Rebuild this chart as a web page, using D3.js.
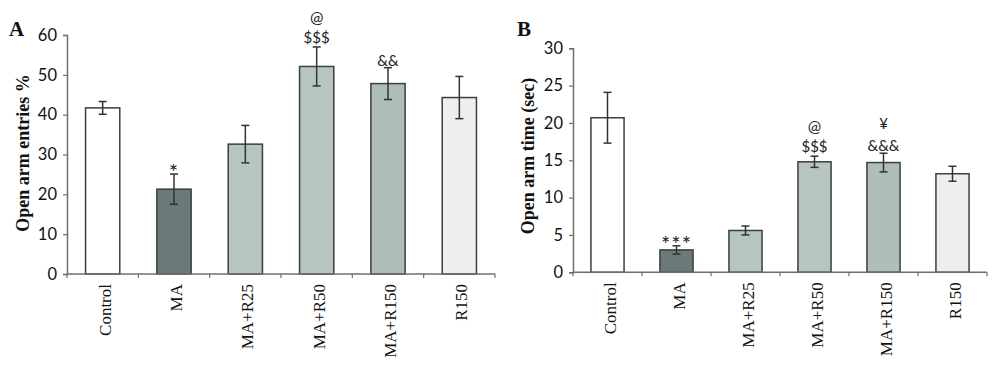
<!DOCTYPE html>
<html><head><meta charset="utf-8">
<script src="https://cdn.jsdelivr.net/npm/d3@7"></script>
<style>html,body{margin:0;padding:0;background:#fff;}svg{display:block;}</style>
</head><body>
<svg id="chart" width="1000" height="382"></svg>
<script>
const categories = ["Control", "MA", "MA+R25", "MA+R50", "MA+R150", "R150"];
const entriesMean = [41.7, 21.3, 32.6, 52.1, 47.8, 44.3];
const entriesErr  = [1.6, 3.8, 4.7, 4.9, 4.0, 5.3];
const entriesMarks = [[], ["*"], [], ["$$$", "@"], ["&&"], []];
const entriesTicks = [0, 10, 20, 30, 40, 50, 60];
const timeMean = [20.7, 3.0, 5.6, 14.8, 14.7, 13.2];
const timeErr  = [3.4, 0.55, 0.6, 0.75, 1.25, 1.0];
const timeMarks = [[], ["***"], [], ["$$$", "@"], ["&&&", "¥"], []];
const timeTicks = [0, 5, 10, 15, 20, 25, 30];
const barColors = ["#ffffff", "#6b7a79", "#b6c5c1", "#b6c5c1", "#afbebb", "#edefee"];

const svg = d3.select("#chart");

function panel(opt) {
  const g = svg.append("g");
  const x = d3.scaleBand().domain(categories).range([opt.x0, opt.x1]).paddingInner(0.52).paddingOuter(0.26);
  const y = d3.scaleLinear().domain([0, opt.max]).range([opt.y0, opt.y1]);
  const axisCol = "#6f6f6f";

  // y axis
  const ya = g.append("g").attr("transform", `translate(${opt.x0},0)`)
    .call(d3.axisLeft(y).tickValues(opt.ticks).tickSize(4).tickPadding(6));
  ya.select(".domain").attr("stroke", axisCol).attr("stroke-width", 1.5);
  ya.selectAll(".tick line").attr("stroke", axisCol).attr("stroke-width", 1.2);
  ya.selectAll("text").attr("font-family", "Lato, 'Open Sans', sans-serif").attr("font-size", 16.5).attr("fill", "#111");

  // bars
  g.selectAll("rect.bar").data(categories).enter().append("rect")
    .attr("x", d => x(d)).attr("width", x.bandwidth())
    .attr("y", (d, i) => y(opt.mean[i])).attr("height", (d, i) => opt.y0 - y(opt.mean[i]))
    .attr("fill", (d, i) => barColors[i]).attr("stroke", "#3a3f3f").attr("stroke-width", 1.5);

  // x axis
  const boundaries = categories.map(c => x(c) - x.step() * x.paddingInner() / 2).concat([opt.x1]);
  const xa = g.append("g");
  xa.append("line").attr("x1", opt.x0).attr("x2", opt.x1).attr("y1", opt.y0).attr("y2", opt.y0)
    .attr("stroke", axisCol).attr("stroke-width", 1.5);
  xa.selectAll("line.tk").data(boundaries).enter().append("line")
    .attr("x1", d => d).attr("x2", d => d).attr("y1", opt.y0).attr("y2", opt.y0 + 4)
    .attr("stroke", axisCol).attr("stroke-width", 1.2);
  xa.selectAll("text").data(categories).enter().append("text")
    .attr("transform", d => `translate(${x(d) + x.bandwidth() / 2 + 8},${opt.y0 + 10}) rotate(-90)`)
    .attr("text-anchor", "end")
    .attr("font-family", "'Liberation Serif', 'Times New Roman', serif").attr("font-size", 17).attr("fill", "#111")
    .text(d => d);

  // error bars
  const eb = g.selectAll("g.err").data(categories).enter().append("g")
    .attr("stroke", "#333").attr("stroke-width", 1.5);
  const cx = d => x(d) + x.bandwidth() / 2;
  eb.append("line").attr("x1", cx).attr("x2", cx)
    .attr("y1", (d, i) => y(opt.mean[i] + opt.err[i])).attr("y2", (d, i) => y(opt.mean[i] - opt.err[i]));
  eb.append("line").attr("x1", d => cx(d) - 4).attr("x2", d => cx(d) + 4)
    .attr("y1", (d, i) => y(opt.mean[i] + opt.err[i])).attr("y2", (d, i) => y(opt.mean[i] + opt.err[i]));
  eb.append("line").attr("x1", d => cx(d) - 4).attr("x2", d => cx(d) + 4)
    .attr("y1", (d, i) => y(opt.mean[i] - opt.err[i])).attr("y2", (d, i) => y(opt.mean[i] - opt.err[i]));

  // significance marks
  categories.forEach((c, i) => {
    const top = y(opt.mean[i] + opt.err[i]);
    opt.marks[i].forEach((m, k) => {
      const star = /^\*+$/.test(m);
      const base = star ? top + 6 : (/^&+$/.test(m) ? top - 2 : top - 4);
      g.append("text").attr("x", cx(c)).attr("y", base - k * 20)
        .attr("text-anchor", "middle").attr("font-family", "Lato, 'Open Sans', sans-serif")
        .attr("font-size", star ? 22 : (m === "@" ? 16 : 15)).attr("letter-spacing", star ? 1 : 0)
        .attr("fill", "#222").text(m);
    });
  });

  // y title
  g.append("text").attr("transform", `translate(${opt.titleX},${opt.titleY}) rotate(-90)`)
    .attr("text-anchor", "middle").attr("font-family", "'Liberation Serif', serif")
    .attr("font-weight", "bold").attr("font-size", 18).attr("fill", "#111").text(opt.title);
  // panel letter
  g.append("text").attr("x", opt.letterX).attr("y", 36)
    .attr("font-family", "'Liberation Serif', serif").attr("font-weight", "bold")
    .attr("font-size", 21).attr("fill", "#111").text(opt.letter);
}

panel({x0: 67, x1: 495, y0: 274, y1: 35, max: 60, ticks: entriesTicks, mean: entriesMean, err: entriesErr,
  marks: entriesMarks, title: "Open arm entries %", titleX: 29, titleY: 153, letter: "A", letterX: 9});
panel({x0: 573, x1: 987, y0: 272.3, y1: 48.3, max: 30, ticks: timeTicks, mean: timeMean, err: timeErr,
  marks: timeMarks, title: "Open arm time (sec)", titleX: 534, titleY: 156, letter: "B", letterX: 517});
</script>
</body></html>
